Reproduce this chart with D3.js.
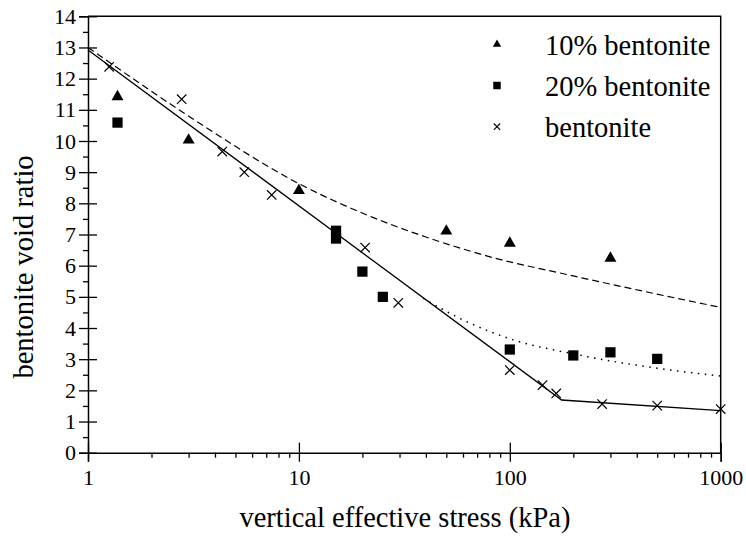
<!DOCTYPE html>
<html>
<head>
<meta charset="utf-8">
<script src="https://cdn.jsdelivr.net/npm/d3@7"></script>
<style>
  body { margin: 0; background: #fff; }
</style>
</head>
<body>
<svg width="746" height="540"></svg>
<script>
// measured points (stress kPa, void ratio)
var bent10X = [1.38, 3, 10, 50, 100, 300];
var bent10Y = [11.42, 10.03, 8.41, 7.11, 6.72, 6.24];

var bent20X = [1.38, 15, 15, 20, 25, 100, 200, 300, 500];
var bent20Y = [10.59, 7.12, 6.87, 5.81, 5.0, 3.31, 3.12, 3.22, 3.01];

var bentX = [1.26, 2.78, 4.33, 5.51, 7.43, 20.6, 29.6, 100, 143, 166, 274, 500, 1000];
var bentY = [12.38, 11.34, 9.66, 9.0, 8.27, 6.58, 4.81, 2.65, 2.17, 1.9, 1.56, 1.51, 1.40];

// fitted lines
var solidX = [1, 176, 1000];
var solidY = [12.92, 1.69, 1.35];

var dashX = [1, 3.16, 10, 22.4, 40, 79, 200, 1000];
var dashY = [13.0, 10.7, 8.63, 7.55, 6.92, 6.30, 5.67, 4.66];

var dotX = [38.9, 60, 104, 200, 500, 1000];
var dotY = [4.95, 4.26, 3.62, 3.17, 2.71, 2.46];

var xTicks = [1, 10, 100, 1000];
var yTicks = d3.range(0, 15);
var legendLabels = ["10% bentonite", "20% bentonite", "bentonite"];

var fontName = "Liberation Serif";

var svg = d3.select("svg");

var x = d3.scaleLog().domain([1, 1000]).range([88, 720.7]);
var y = d3.scaleLinear().domain([0, 14]).range([452.7, 16.3]);

var x0 = 88, x1 = 720.7, y0 = 452.7, y1 = 16.3;

// frame (top and right)
svg.append("path")
    .attr("d", "M" + x0 + "," + y1 + "H" + x1 + "V" + y0)
    .attr("fill", "none")
    .attr("stroke", "#000")
    .attr("stroke-width", 1.5);

function styleAxis(g) {
    g.attr("font-family", fontName).attr("font-size", 22);
    g.select(".domain").attr("stroke-width", 1.5);
    g.selectAll(".tick line").attr("stroke-width", 1.3);
    g.selectAll("text").attr("font-family", fontName).attr("font-size", 22);
}

// y axis: major ticks out + in, minor out
svg.append("g").attr("transform", "translate(" + x0 + ",0)")
    .call(d3.axisLeft(y).tickValues(yTicks).tickSize(9).tickPadding(3).tickFormat(d3.format("d")))
    .call(styleAxis);
svg.append("g").attr("transform", "translate(" + x0 + ",0)")
    .call(d3.axisRight(y).tickValues(yTicks).tickSize(9).tickFormat(""))
    .call(styleAxis)
    .select(".domain").remove();
svg.append("g").attr("transform", "translate(" + x0 + ",0)")
    .call(d3.axisLeft(y).tickValues(d3.range(0.5, 14, 1)).tickSize(5).tickFormat(""))
    .call(styleAxis)
    .select(".domain").remove();

// x axis
var minorX = [];
[1, 10, 100].forEach(function (d) { for (var i = 2; i < 10; i++) minorX.push(d * i); });
svg.append("g").attr("transform", "translate(0," + y0 + ")")
    .call(d3.axisBottom(x).tickValues(xTicks).tickSize(9).tickPadding(8).tickFormat(d3.format("d")))
    .call(styleAxis);
svg.append("g").attr("transform", "translate(0," + y0 + ")")
    .call(d3.axisTop(x).tickValues(xTicks).tickSize(10).tickFormat(""))
    .call(styleAxis)
    .select(".domain").remove();
svg.append("g").attr("transform", "translate(0," + y0 + ")")
    .call(d3.axisBottom(x).tickValues(minorX).tickSize(5).tickFormat(""))
    .call(styleAxis)
    .select(".domain").remove();

// axis titles
svg.append("text")
    .attr("x", 405).attr("y", 527)
    .attr("text-anchor", "middle")
    .attr("font-family", fontName).attr("font-size", 28.5)
    .text("vertical effective stress (kPa)");
svg.append("text")
    .attr("transform", "translate(33,267) rotate(-90)")
    .attr("text-anchor", "middle")
    .attr("font-family", fontName).attr("font-size", 28.5)
    .text("bentonite void ratio");

// lines
var line = d3.line()
    .x(function (d) { return x(d[0]); })
    .y(function (d) { return y(d[1]); });
var curve = d3.line()
    .x(function (d) { return x(d[0]); })
    .y(function (d) { return y(d[1]); })
    .curve(d3.curveMonotoneX);

svg.append("path")
    .datum(d3.zip(solidX, solidY))
    .attr("d", line)
    .attr("fill", "none").attr("stroke", "#000").attr("stroke-width", 1.3);
svg.append("path")
    .datum(d3.zip(dashX, dashY))
    .attr("d", curve)
    .attr("fill", "none").attr("stroke", "#000").attr("stroke-width", 1.2)
    .attr("stroke-dasharray", "7,4");
svg.append("path")
    .datum(d3.zip(dotX, dotY))
    .attr("d", curve)
    .attr("fill", "none").attr("stroke", "#000").attr("stroke-width", 1.5)
    .attr("stroke-dasharray", "1.5,5.5");

// markers
var tri = d3.symbol().type(d3.symbolTriangle).size(62);
var sq = d3.symbol().type(d3.symbolSquare).size(105);
function cross(r) { return "M" + -r + "," + -r + "L" + r + "," + r + "M" + -r + "," + r + "L" + r + "," + -r; }

svg.append("g").selectAll("path")
    .data(d3.zip(bent10X, bent10Y)).enter().append("path")
    .attr("d", tri)
    .attr("transform", function (d) { return "translate(" + x(d[0]) + "," + y(d[1]) + ")"; })
    .attr("fill", "#000");
svg.append("g").selectAll("path")
    .data(d3.zip(bent20X, bent20Y)).enter().append("path")
    .attr("d", sq)
    .attr("transform", function (d) { return "translate(" + x(d[0]) + "," + y(d[1]) + ")"; })
    .attr("fill", "#000");
svg.append("g").selectAll("path")
    .data(d3.zip(bentX, bentY)).enter().append("path")
    .attr("d", cross(4.7))
    .attr("transform", function (d) { return "translate(" + x(d[0]) + "," + y(d[1]) + ")"; })
    .attr("fill", "none").attr("stroke", "#000").attr("stroke-width", 1.2);

// legend
var legend = svg.append("g");
var legendShapes = [
    d3.symbol().type(d3.symbolTriangle).size(30)(),
    d3.symbol().type(d3.symbolSquare).size(56)(),
    cross(3.2)
];
legendLabels.forEach(function (label, i) {
    var cy = 44.3 + i * 41.2;
    legend.append("path")
        .attr("d", legendShapes[i])
        .attr("transform", "translate(497," + cy + ")")
        .attr("fill", i < 2 ? "#000" : "none")
        .attr("stroke", i < 2 ? "none" : "#000")
        .attr("stroke-width", 1.1);
    legend.append("text")
        .attr("x", 545).attr("y", cy + 10.5)
        .attr("font-family", fontName).attr("font-size", 28.5)
        .text(label);
});
</script>
</body>
</html>
